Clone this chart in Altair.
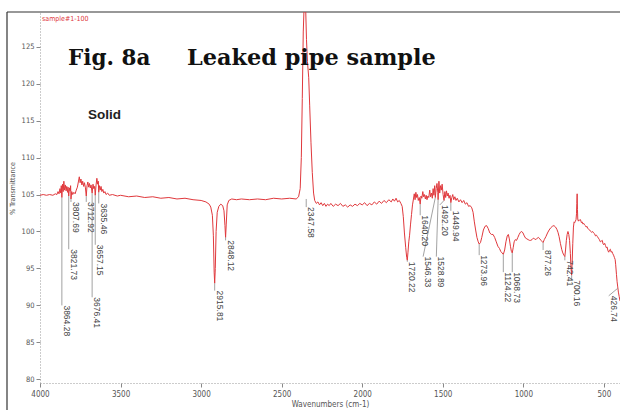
import altair as alt
import pandas as pd

# ---- spectrum (wavenumber cm-1, % transmittance) ----
wavenumber = [
    4000, 3980, 3960, 3940, 3920, 3905, 3895, 3888, 3882, 3876, 3871, 3868, 3864.3, 3860, 3856, 3852,
    3848, 3843, 3838, 3834, 3829, 3826, 3821.7, 3817, 3813, 3810, 3807.7, 3803, 3797, 3790, 3782, 3775,
    3768, 3762, 3756, 3751, 3746, 3740, 3735, 3729, 3724, 3718, 3712.9, 3708, 3703, 3698, 3693, 3688,
    3683, 3676.4, 3671, 3666, 3661, 3657.1, 3652, 3647, 3642, 3638, 3635.5, 3631, 3626, 3621, 3616, 3610,
    3604, 3597, 3590, 3580, 3570, 3550, 3520, 3500, 3450, 3400, 3350, 3300, 3250, 3200, 3150, 3100,
    3050, 3000, 2970, 2950, 2940, 2930, 2924, 2919, 2915.8, 2912, 2907, 2900, 2890, 2878, 2866, 2858,
    2852, 2848.1, 2844, 2838, 2828, 2810, 2780, 2750, 2700, 2650, 2600, 2550, 2500, 2450, 2410, 2395,
    2385, 2378, 2372, 2366, 2360, 2352, 2346, 2340, 2332, 2326, 2318, 2310, 2302, 2295, 2285, 2275,
    2265, 2255, 2245, 2235, 2225, 2215, 2205, 2195, 2180, 2165, 2150, 2135, 2120, 2105, 2090, 2075,
    2060, 2045, 2030, 2015, 2000, 1985, 1970, 1955, 1940, 1925, 1910, 1895, 1880, 1865, 1850, 1835,
    1820, 1810, 1800, 1790, 1780, 1770, 1760, 1752, 1745, 1738, 1730, 1724, 1720.2, 1716, 1711, 1706,
    1700, 1694, 1688, 1682, 1677, 1672, 1667, 1662, 1657, 1652, 1646, 1640.2, 1635, 1630, 1624, 1619,
    1614, 1608, 1603, 1598, 1592, 1587, 1581, 1576, 1570, 1565, 1560, 1555, 1550, 1546.3, 1541, 1536,
    1531, 1528.9, 1524, 1519, 1514, 1509, 1504, 1498, 1492.2, 1487, 1482, 1477, 1472, 1467, 1461, 1455,
    1449.9, 1444, 1438, 1432, 1425, 1418, 1410, 1400, 1390, 1380, 1370, 1360, 1350, 1340, 1330, 1320,
    1312, 1304, 1296, 1288, 1280, 1274, 1266, 1258, 1248, 1238, 1228, 1218, 1208, 1198, 1188, 1178,
    1168, 1158, 1148, 1140, 1132, 1124.2, 1116, 1108, 1100, 1093, 1087, 1080, 1074, 1068.7, 1063, 1057,
    1050, 1042, 1034, 1026, 1018, 1010, 1002, 994, 986, 978, 970, 962, 954, 946, 938, 930,
    922, 914, 906, 898, 890, 882, 877.3, 870, 860, 850, 840, 830, 820, 810, 800, 792,
    785, 778, 770, 762, 755, 748, 742.4, 738, 733, 728, 723, 718, 713, 708, 704, 700.2,
    697, 693, 689, 685, 681, 677, 673, 670, 668, 666, 664, 662, 658, 654, 650, 645,
    640, 635, 630, 625, 620, 615, 610, 605, 600, 594, 588, 582, 576, 570, 564, 558,
    552, 546, 540, 534, 528, 522, 516, 510, 505, 500, 495, 490, 485, 480, 475, 470,
    465, 460, 455, 450, 445, 440, 435, 430, 426.7, 422, 418, 414, 410, 405, 400,
]
transmittance = [
    104.9, 105.0, 104.9, 105.0, 104.9, 105.1, 105.0, 105.4, 105.1, 105.8, 105.2, 106.2, 104.6, 106.4, 105.4, 106.8,
    105.6, 106.3, 105.5, 106.1, 105.3, 106.0, 104.8, 105.9, 105.5, 106.2, 104.4, 105.4, 105.0, 105.3, 105.1, 105.6,
    106.0, 106.7, 107.4, 106.6, 107.1, 106.3, 106.8, 106.1, 106.6, 105.9, 104.8, 106.2, 106.7, 106.0, 106.5, 105.9,
    106.3, 105.2, 106.4, 105.8, 106.1, 104.9, 106.3, 107.2, 106.4, 106.8, 105.3, 106.2, 105.6, 106.1, 105.4, 105.7,
    105.2, 105.4, 105.0, 105.2, 104.9, 105.0, 104.8, 104.9, 104.7, 104.8, 104.6, 104.7, 104.5, 104.6, 104.4, 104.5,
    104.3, 104.2, 104.0, 103.7, 103.3, 102.2, 99.5, 94.5, 93.0, 95.0, 100.0, 102.6, 103.4, 103.7, 103.5, 102.8,
    100.8, 99.2, 101.0, 103.6, 104.2, 104.4, 104.3, 104.4, 104.3, 104.4, 104.3, 104.5, 104.4, 104.5, 104.4, 104.7,
    105.8, 110.0, 118.0, 127.0, 131.0, 131.0, 126.0, 123.0, 120.8, 117.0, 112.0, 108.0, 105.2, 104.2, 103.8, 104.0,
    103.6, 103.9, 103.5, 103.8, 103.4, 103.7, 103.5, 103.8, 103.4, 103.7, 103.5, 103.8, 103.4, 103.6, 103.3, 103.6,
    103.4, 103.7, 103.5, 103.8, 103.6, 103.9, 103.5, 103.8, 103.6, 104.0, 103.7, 104.1, 103.8, 104.2, 103.9, 104.3,
    104.0, 104.4, 104.1, 104.5, 104.0, 104.2, 103.8, 103.4, 102.0, 99.8, 97.8, 96.5, 96.1, 97.2, 98.6, 99.5,
    101.0, 102.3, 103.6, 104.4, 105.1, 104.3, 105.3, 104.6, 105.0, 104.2, 104.6, 103.7, 104.8, 104.5, 105.4, 104.7,
    105.0, 104.4, 104.9, 104.3, 104.8, 104.6, 105.6, 104.7, 105.2, 104.5, 105.8, 104.9, 106.2, 104.6, 105.8, 106.5,
    105.3, 104.3, 106.8, 105.2, 106.2, 105.6, 106.4, 105.0, 104.2, 105.4, 104.6, 105.5, 104.8, 105.2, 104.5, 104.9,
    103.9, 104.6, 105.0, 104.3, 104.7, 104.2, 104.5, 104.0, 104.3, 103.9, 104.2, 103.7, 103.9, 103.4, 103.5, 103.2,
    102.6, 101.3, 100.2, 99.2, 98.6, 98.3, 98.5, 99.2, 100.2, 100.7, 100.8, 100.4, 99.8, 99.6, 99.6, 99.2,
    98.6, 98.0, 97.7, 97.3, 97.1, 96.9, 97.5, 98.6, 99.4, 99.6, 99.0, 98.0, 97.3, 97.1, 97.8, 98.6,
    98.9, 98.8, 99.2, 99.6, 99.9, 100.0, 99.8, 99.4, 99.1, 99.0, 98.9, 98.8, 98.8, 98.9, 99.1, 99.0,
    98.9, 99.1, 99.2, 99.0, 98.8, 98.6, 98.5, 98.9, 99.3, 99.8, 100.2, 100.5, 100.7, 100.8, 100.6, 100.3,
    99.9, 99.3, 98.4, 97.6, 97.1, 96.8, 96.6, 97.5, 98.8, 99.6, 100.0, 99.6, 98.8, 97.0, 95.0, 94.1,
    95.8, 98.4, 100.6, 101.3, 101.2, 101.4, 101.6, 102.4, 103.8, 105.1, 103.0, 101.6, 101.4, 101.6, 101.5, 101.6,
    101.2, 101.3, 101.0, 101.1, 100.9, 100.8, 100.6, 100.7, 100.4, 100.3, 100.2, 100.0, 99.9, 100.0, 99.8, 99.7,
    99.4, 99.5, 99.3, 99.1, 98.9, 98.6, 98.7, 98.8, 98.3, 98.2, 98.4, 98.1, 97.8, 97.9, 97.4, 97.2,
    97.5, 97.6, 97.2, 97.3, 97.0, 96.8, 96.5, 96.2, 95.5, 94.2, 93.2, 92.5, 91.8, 91.2, 90.6,
]

# ---- peak annotations ----
peak_names = ["3864.28", "3821.73", "3807.69", "3712.92", "3676.41", "3657.15", "3635.46",
              "2915.81", "2848.12", "2347.58", "1720.22", "1640.20", "1546.33", "1528.89",
              "1492.20", "1449.94", "1273.96", "1124.22", "1068.73", "877.26", "742.41",
              "700.16", "426.74"]
peak_wn = [3864.28, 3821.73, 3807.69, 3712.92, 3676.41, 3657.15, 3635.46,
           2915.81, 2848.12, 2347.58, 1720.22, 1640.20, 1546.33, 1528.89,
           1492.20, 1449.94, 1273.96, 1124.22, 1068.73, 877.26, 742.41,
           700.16, 415.0]
peak_t = [104.6, 104.8, 104.4, 104.8, 105.2, 104.9, 105.3,
          93.0, 99.2, 104.4, 96.1, 103.7, 104.6, 104.3,
          104.2, 103.9, 98.3, 96.9, 97.1, 98.5, 96.6,
          94.1, 92.3]
label_wn = [3864.28, 3821.73, 3807.69, 3712.92, 3676.41, 3657.15, 3635.46,
            2915.81, 2848.12, 2347.58, 1720.22, 1640.20, 1622.0, 1540.0,
            1518.0, 1449.94, 1273.96, 1124.22, 1068.73, 877.26, 742.41,
            700.16, 470.0]
label_t = [90.0, 97.6, 104.0, 104.0, 91.1, 98.2, 103.8,
           92.0, 98.8, 103.3, 95.9, 102.2, 96.6, 96.6,
           103.6, 102.8, 96.8, 94.5, 94.5, 97.5, 96.1,
           93.4, 91.3]

x_ticks = [4000, 3500, 3000, 2500, 2000, 1500, 1000, 500]
y_ticks = [80, 85, 90, 95, 100, 105, 110, 115, 120, 125]

spec = pd.DataFrame({"wn": wavenumber, "t": transmittance})
peaks = pd.DataFrame({"name": peak_names, "pwn": peak_wn, "pt": peak_t,
                      "lwn": label_wn, "lt": label_t})

xscale = alt.Scale(domain=[4000, 400], nice=False, zero=False)
yscale = alt.Scale(domain=[79.5, 129.7], nice=False, zero=False)

axis_font = "Liberation Sans Narrow, DejaVu Sans Condensed, Liberation Sans"

x_axis = alt.Axis(
    values=x_ticks, format="d", labelOverlap=False, labelFlush=False, grid=False,
    tickSize=4, tickColor="#888", domainColor="#999", domainDash=[1, 2],
    labelFont=axis_font, labelFontSize=8, labelColor="#555", labelPadding=3,
    title="Wavenumbers (cm-1)", titleFont=axis_font, titleFontSize=8,
    titleFontWeight="normal", titleColor="#555", titleY=21, titleBaseline="middle",
)
y_axis = alt.Axis(
    values=y_ticks, format="d", labelOverlap=False, labelFlush=False, grid=False,
    tickSize=4, tickColor="#888", domainColor="#999", domainDash=[1, 2],
    labelFont=axis_font, labelFontSize=7.5, labelColor="#555", labelPadding=2,
    title="% Transmittance", titleFont=axis_font, titleFontSize=7,
    titleFontWeight="normal", titleColor="#555", titleX=-28, titleY=176,
    titleAngle=270, titleBaseline="middle", titleAlign="center",
)

line = alt.Chart(spec).mark_line(color="#e0383c", strokeWidth=1, clip=True).encode(
    x=alt.X("wn:Q", scale=xscale, axis=x_axis),
    y=alt.Y("t:Q", scale=yscale, axis=y_axis),
)

leaders = alt.Chart(peaks).mark_rule(color="#8a8a8a", strokeWidth=0.8).encode(
    x="pwn:Q", y="pt:Q", x2="lwn:Q", y2="lt:Q",
)

labels = alt.Chart(peaks).mark_text(
    angle=90, align="left", baseline="bottom", fontSize=8.5,
    font="Liberation Sans", color="#444",
).encode(x="lwn:Q", y="lt:Q", text="name:N")

one = pd.DataFrame({"k": [0]})
frame_left = alt.Chart(one).mark_rule(color="#333", strokeWidth=1.2).encode(
    x=alt.value(-33), y=alt.value(0), y2=alt.value(400))
frame_top = alt.Chart(one).mark_rule(color="#333", strokeWidth=1.2).encode(
    x=alt.value(-33), x2=alt.value(580), y=alt.value(0))

fig = alt.Chart(one).mark_text(
    font="DejaVu Serif", fontWeight="bold", fontSize=21.5, align="left",
    baseline="alphabetic", color="#111").encode(
    x=alt.value(28), y=alt.value(53), text=alt.value("Fig. 8a"))
ttl = alt.Chart(one).mark_text(
    font="DejaVu Serif", fontWeight="bold", fontSize=22.4, align="left",
    baseline="alphabetic", color="#111").encode(
    x=alt.value(147), y=alt.value(53), text=alt.value("Leaked pipe sample"))
solid = alt.Chart(one).mark_text(
    font="Liberation Sans", fontWeight="bold", fontSize=13.5, align="left",
    baseline="alphabetic", color="#222").encode(
    x=alt.value(48), y=alt.value(107), text=alt.value("Solid"))
sample = alt.Chart(one).mark_text(
    font=axis_font, fontSize=7, align="left", baseline="middle",
    color="#e0383c").encode(
    x=alt.value(2), y=alt.value(7), text=alt.value("sample#1-100"))

chart = alt.layer(
    frame_left, frame_top, line, leaders, labels, fig, ttl, solid, sample
).properties(
    width=580, height=371,
    padding={"left": 40, "top": 12, "right": 0, "bottom": 27},
    autosize=alt.AutoSizeParams(type="none"),
    background="white",
).configure_view(stroke="transparent")

chart.save("out.html", embed_options={"renderer": "svg", "actions": False})
